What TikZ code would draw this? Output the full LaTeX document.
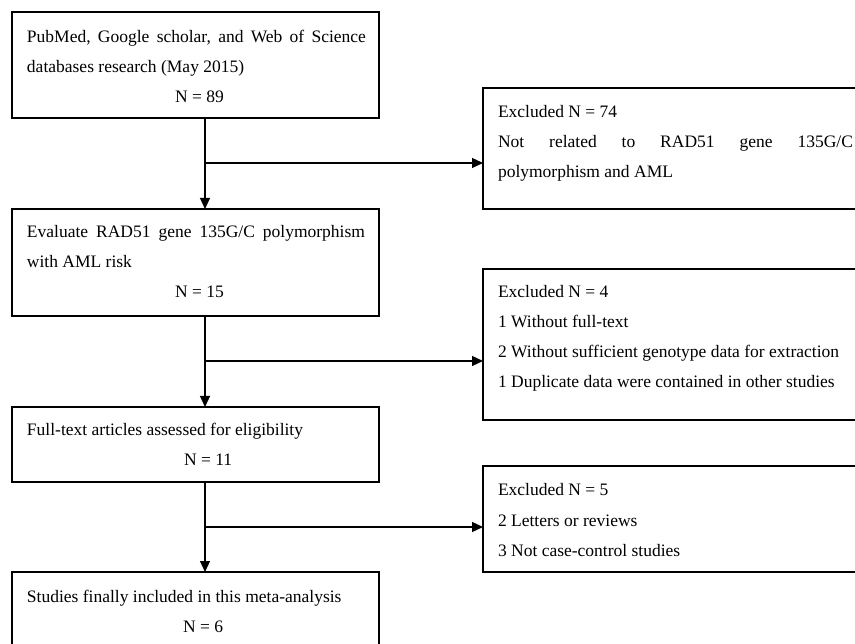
\documentclass[tikz,border=0pt]{standalone}
\usepackage{fontspec}
\setmainfont{Liberation Serif}
\usetikzlibrary{arrows.meta}
\begin{document}
\begin{tikzpicture}[x=1pt,y=-1pt,
  box/.style={draw, line width=1.2pt, anchor=north west, inner sep=0pt, outer sep=0pt},
  txt/.style={anchor=base west, inner sep=0pt, outer sep=0pt, font=\fontsize{17.5}{21}\selectfont},
  arr/.style={line width=1.2pt, -{Triangle[length=11pt,width=10pt]}}]
\useasboundingbox (0,0) rectangle (855,644);
\clip (0,0) rectangle (855,644);
% left boxes
\node[box, minimum width=367pt, minimum height=106pt] (b1) at (12,12) {};
\node[box, minimum width=367pt, minimum height=107pt] (b2) at (12,209) {};
\node[box, minimum width=367pt, minimum height=75pt] (b3) at (12,407) {};
\node[box, minimum width=367pt, minimum height=90pt] (b4) at (12,572) {};
% right boxes (cut at the right edge)
\node[box, minimum width=400pt, minimum height=121pt] (r1) at (483,88) {};
\node[box, minimum width=400pt, minimum height=151pt] (r2) at (483,269) {};
\node[box, minimum width=400pt, minimum height=106pt] (r3) at (483,466) {};
% texts
\node[txt] (t1a) at (27,43) {\hbox to 339pt{PubMed,\hfill Google\hfill scholar,\hfill and\hfill Web\hfill of\hfill Science}};
\node[txt] (t1b) at (27,73) {databases research (May 2015)};
\node[txt] (t1c) at (175,103) {N = 89};
\node[txt] (t2a) at (27,238) {\hbox to 338pt{Evaluate\hfill RAD51\hfill gene\hfill 135G/C\hfill polymorphism}};
\node[txt] (t2b) at (27,268) {with AML risk};
\node[txt] (t2c) at (175,298) {N = 15};
\node[txt] (t3a) at (27,436) {Full-text articles assessed for eligibility};
\node[txt] (t3c) at (184,466) {N = 11};
\node[txt] (t4a) at (27,602) {Studies finally included in this meta-analysis};
\node[txt] (t4c) at (183,632) {N = 6};
\node[txt] (u1a) at (498,118) {Excluded N = 74};
\node[txt] (u1b) at (498,148) {\hbox to 355pt{Not\hfill related\hfill to\hfill RAD51\hfill gene\hfill 135G/C}};
\node[txt] (u1c) at (498,178) {polymorphism and AML};
\node[txt] (u2a) at (498,298) {Excluded N = 4};
\node[txt] (u2b) at (498,328) {1 Without full-text};
\node[txt] (u2c) at (498,358) {2 Without sufficient genotype data for extraction};
\node[txt] (u2d) at (498,388) {1 Duplicate data were contained in other studies};
\node[txt] (u3a) at (498,496) {Excluded N = 5};
\node[txt] (u3b) at (498,526) {2 Letters or reviews};
\node[txt] (u3c) at (498,556) {3 Not case-control studies};
% connectors
\coordinate (vx) at (205,0);
\coordinate (j1) at (205,163);
\coordinate (j2) at (205,361);
\coordinate (j3) at (205,527);
\draw[arr] (vx |- b1.south) -- (vx |- b2.north);
\draw[arr] (vx |- b2.south) -- (vx |- b3.north);
\draw[arr] (vx |- b3.south) -- (vx |- b4.north);
\draw[arr] (j1) -- (j1 -| r1.west);
\draw[arr] (j2) -- (j2 -| r2.west);
\draw[arr] (j3) -- (j3 -| r3.west);
\end{tikzpicture}
\end{document}
